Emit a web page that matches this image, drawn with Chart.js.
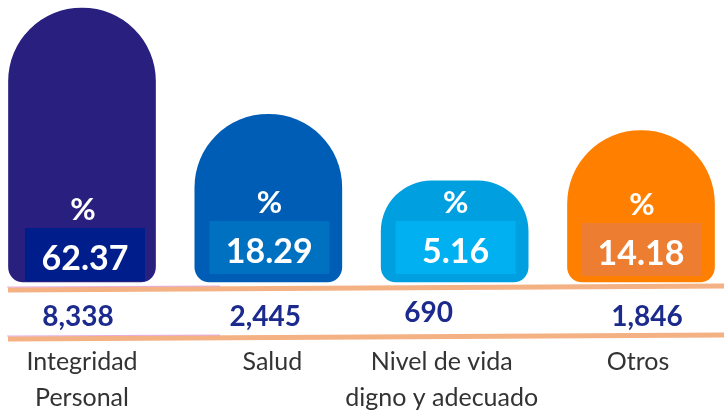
<!DOCTYPE html>
<html>
<head>
<meta charset="utf-8">
<script src="https://cdn.jsdelivr.net/npm/chart.js@4.4.1/dist/chart.umd.min.js"></script>
<style>
html,body{margin:0;padding:0;background:#fff;}
#wrap{width:724px;height:413px;position:relative;}
</style>
</head>
<body>
<div id="wrap"><canvas id="c" width="724" height="413"></canvas></div>
<script>
const categories = [["Integridad", "Personal"], ["Salud"], ["Nivel de vida", "digno y adecuado"], ["Otros"]];
const percentages = [62.37, 18.29, 5.16, 14.18];
const counts = ["8,338", "2,445", "690", "1,846"];
const barColors = ["#291f7f", "#005db6", "#009fe0", "#ff7f00"];
const boxColors = ["#001d8c", "#0070c0", "#00b0f0", "#ed7d31"];

// power scale (infographic-style compressed heights)
const P = 0.4;
class PowScale extends Chart.LinearScale {
  _f(v){ return Math.pow(Math.max(v, 0), P); }
  getPixelForValue(value){
    const a = this._f(this.min), b = this._f(this.max);
    return this.getPixelForDecimal((this._f(value) - a) / (b - a));
  }
  getValueForPixel(pixel){
    const a = this._f(this.min), b = this._f(this.max);
    const d = this.getDecimalForPixel(pixel);
    return Math.pow(a + d * (b - a), 1 / P);
  }
}
PowScale.id = 'pow';
PowScale.defaults = Chart.LinearScale.defaults;
Chart.register(PowScale);

const FONT = "Lato, 'Open Sans', sans-serif";

const decor = {
  id: 'decor',
  beforeDatasetsDraw(chart){
    const ctx = chart.ctx;
    ctx.save();
    ctx.strokeStyle = '#f4b183';
    ctx.lineWidth = 5;
    ctx.beginPath(); ctx.moveTo(8, 290); ctx.lineTo(724, 286); ctx.stroke();
    ctx.beginPath(); ctx.moveTo(8, 339); ctx.lineTo(724, 335); ctx.stroke();
    ctx.strokeStyle = 'rgba(200,80,200,0.45)';
    ctx.lineWidth = 1;
    ctx.beginPath(); ctx.moveTo(7, 287); ctx.lineTo(220, 286); ctx.stroke();
    ctx.beginPath(); ctx.moveTo(7, 336); ctx.lineTo(220, 335); ctx.stroke();
    ctx.restore();
  },
  afterDatasetsDraw(chart){
    const ctx = chart.ctx;
    const meta = chart.getDatasetMeta(0);
    const countDx = [-4, -3, -26, 6];
    const countDy = [0, 0, -4, 0];
    const labelDx = [0, 4, -13, -3];
    const boxDy = [7, 0, 0, 2];
    const boxDx = [3, 1, 1, 0];
    ctx.save();
    meta.data.forEach((el, i) => {
      const x = el.x, bottom = el.base;
      // value box
      const bw = 120, bh = 53;
      const by = bottom - 61 + boxDy[i];
      ctx.fillStyle = boxColors[i];
      ctx.fillRect(x - bw / 2 + boxDx[i], by, bw, bh);
      ctx.fillStyle = '#ffffff';
      ctx.textAlign = 'center';
      ctx.textBaseline = 'middle';
      ctx.font = "bold 34px " + FONT;
      ctx.fillText(percentages[i].toFixed(2), x + boxDx[i], by + bh / 2 + 5);
      ctx.font = "bold 31px " + FONT;
      ctx.fillText('%', x + 1, by - 18);
      // counts
      ctx.fillStyle = '#1b2a8c';
      ctx.font = "bold 28px " + FONT;
      ctx.fillText(counts[i], x + countDx[i], 317 + countDy[i]);
      // category labels
      ctx.fillStyle = '#333333';
      ctx.font = "25px " + FONT;
      categories[i].forEach((line, j) => {
        ctx.fillText(line, x + labelDx[i], 362 + j * 36);
      });
    });
    ctx.restore();
  }
};

new Chart(document.getElementById('c'), {
  type: 'bar',
  data: {
    labels: categories.map(c => c.join(' ')),
    datasets: [{
      data: percentages,
      backgroundColor: barColors,
      borderWidth: 0,
      borderSkipped: false,
      borderRadius: {topLeft: 80, topRight: 80, bottomLeft: 15, bottomRight: 15},
      barThickness: 147,
      clip: false
    }]
  },
  options: {
    responsive: false,
    animation: false,
    devicePixelRatio: 1,
    layout: {padding: {left: 82, right: 83, top: 8, bottom: 131}},
    plugins: {legend: {display: false}, tooltip: {enabled: false}},
    scales: {
      x: {display: false, offset: false, grid: {display: false}},
      y: {type: 'pow', display: false, min: 0, max: Math.max(...percentages), grid: {display: false}}
    }
  },
  plugins: [decor]
});
</script>
</body>
</html>
